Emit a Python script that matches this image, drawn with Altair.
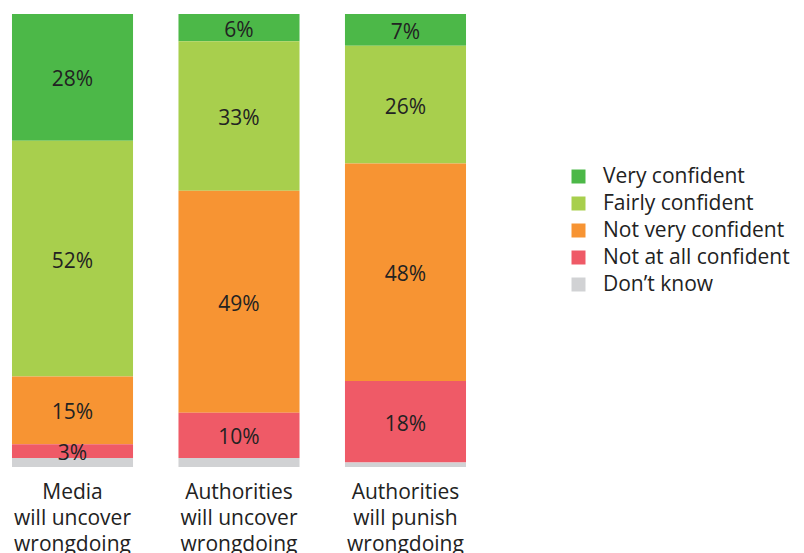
import altair as alt
import pandas as pd

categories = ["Media\nwill uncover\nwrongdoing",
              "Authorities\nwill uncover\nwrongdoing",
              "Authorities\nwill punish\nwrongdoing"]
responses = ["Very confident", "Fairly confident", "Not very confident",
             "Not at all confident", "Don\u2019t know"]
colors = ["#4cb848", "#a8cf4d", "#f79433", "#ef5a67", "#d1d2d4"]

very_confident = [28, 6, 7]
fairly_confident = [52, 33, 26]
not_very_confident = [15, 49, 48]
not_at_all_confident = [3, 10, 18]
dont_know = [2, 2, 1]

series = [very_confident, fairly_confident, not_very_confident,
          not_at_all_confident, dont_know]

rows = []
for ri, (resp, vals) in enumerate(zip(responses, series)):
    for ci, cat in enumerate(categories):
        rows.append({"category": cat, "response": resp, "value": vals[ci],
                     "rank": 4 - ri,
                     "label": "" if resp == responses[-1] else f"{vals[ci]}%"})
df = pd.DataFrame(rows)

FONT = "Open Sans"

base = alt.Chart(df).transform_stack(
    stack="value", as_=["y0", "y1"], groupby=["category"],
    sort=[alt.SortField("rank", order="ascending")]
).transform_calculate(mid="(datum.y0 + datum.y1) / 2")

xenc = alt.X("category:N", sort=categories, title=None,
             scale=alt.Scale(paddingInner=0.273, paddingOuter=0.072),
             axis=alt.Axis(labelExpr="split(datum.value, '\\n')",
                           labelFontSize=21, labelLineHeight=26,
                           labelFont=FONT, labelColor="#222222",
                           labelAngle=0, labelPadding=14, ticks=False,
                           tickSize=0, domain=False, grid=False))

bars = base.mark_bar().encode(
    x=xenc,
    y=alt.Y("y0:Q", scale=alt.Scale(domain=[0, 100]), axis=None),
    y2="y1:Q",
    color=alt.Color("response:N", sort=responses,
                    scale=alt.Scale(domain=responses, range=colors),
                    legend=alt.Legend(title=None, orient="none", legendX=568,
                                      legendY=152, symbolType="square",
                                      symbolSize=196, symbolStrokeWidth=0,
                                      labelFontSize=21, labelFont=FONT,
                                      labelColor="#222222", rowPadding=5,
                                      labelOffset=14, labelLimit=300)),
)

text = base.mark_text(fontSize=21, font=FONT, color="#222222", dy=3).encode(
    x=alt.X("category:N", sort=categories),
    y=alt.Y("mid:Q"),
    text="label:N",
)

chart = alt.layer(bars, text).properties(
    width=478, height=453,
    padding={"left": 0, "top": 14, "right": 0, "bottom": 0},
).configure_view(stroke=None)

chart.save("out.html", embed_options={"renderer": "svg", "actions": False})
